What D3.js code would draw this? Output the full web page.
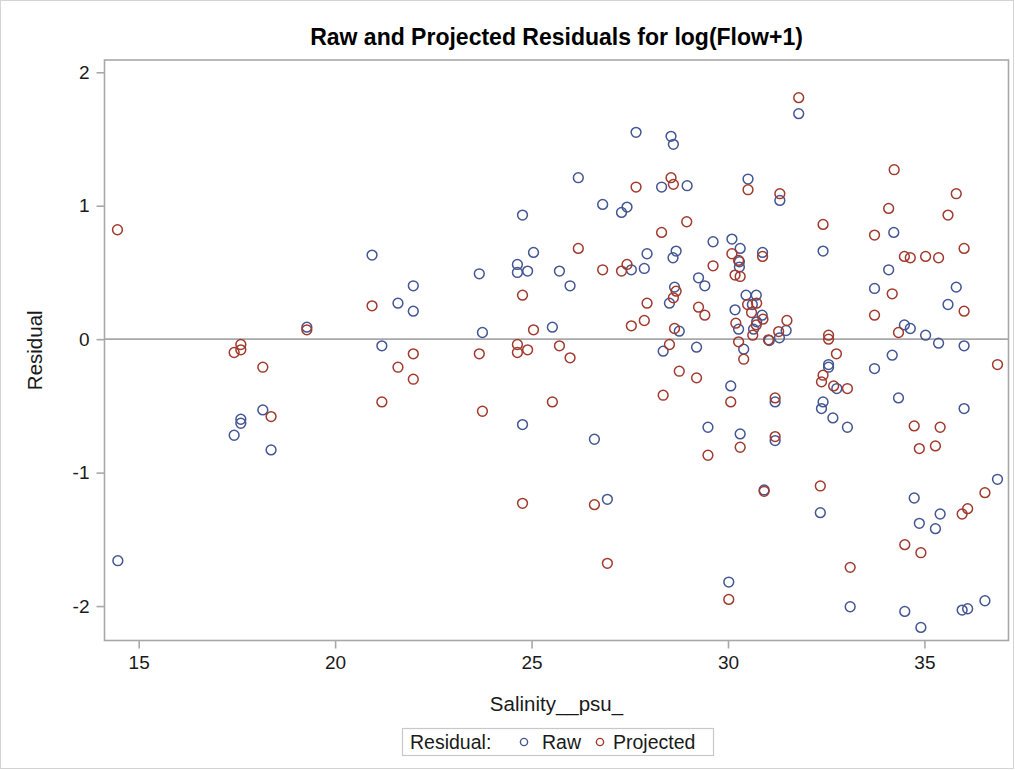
<!DOCTYPE html>
<html>
<head>
<meta charset="utf-8">
<script src="https://cdn.jsdelivr.net/npm/d3@7"></script>
<style>
  html, body { margin: 0; padding: 0; background: #fff; }
  svg { display: block; font-family: "Liberation Sans", Arial, sans-serif; }
</style>
</head>
<body>
<svg id="chart" width="1015" height="770"></svg>
<script>
// ---- data ----
const rawSalinity = [14.47,17.43,17.6,17.6,18.16,18.37,19.28,20.94,21.19,21.6,21.99,21.99,23.67,23.75,24.64,24.64,24.77,24.77,24.9,25.05,25.53,25.71,25.98,26.19,26.6,26.81,26.93,27.29,27.43,27.54,27.66,27.87,27.94,28.31,28.35,28.51,28.55,28.61,28.6,28.64,28.68,28.76,28.96,29.2,29.25,29.41,29.49,29.62,30.02,30.07,30.1,30.18,30.27,30.29,30.29,30.31,30.31,30.4,30.46,30.51,30.62,30.65,30.72,30.73,30.87,30.88,30.92,31.05,31.2,31.2,31.31,31.32,31.48,31.8,32.35,32.38,32.42,32.42,32.56,32.56,32.67,32.77,33.04,33.11,33.73,33.73,34.09,34.18,34.22,34.34,34.49,34.5,34.64,34.74,34.87,34.91,35.03,35.28,35.36,35.4,35.6,35.81,35.96,36.01,36.01,36.1,36.54,36.86];
const rawResidual = [-1.66,-0.72,-0.60,-0.63,-0.53,-0.83,0.09,0.63,-0.05,0.27,0.40,0.21,0.49,0.05,0.56,0.50,0.93,-0.64,0.51,0.65,0.09,0.51,0.40,1.21,-0.75,1.01,-1.20,0.95,0.99,0.52,1.55,0.53,0.64,1.14,-0.09,0.27,1.52,1.46,0.61,0.39,0.66,0.06,1.15,-0.06,0.46,0.40,-0.66,0.73,-1.82,-0.35,0.75,0.22,0.075,0.58,0.54,0.68,-0.71,-0.075,0.33,1.20,0.26,0.075,0.33,0.13,0.18,0.65,-1.13,-0.01,-0.47,-0.76,0.01,1.04,0.065,1.69,-1.30,-0.52,0.66,-0.47,-0.19,-0.21,-0.59,-0.37,-0.66,-2.005,0.38,-0.22,0.52,-0.12,0.80,-0.44,0.107,-2.04,0.08,-1.19,-1.38,-2.16,0.03,-1.42,-0.03,-1.31,0.26,0.39,-2.03,-0.05,-0.52,-2.02,-1.96,-1.05];
const projSalinity = [14.46,17.43,17.6,17.6,18.16,18.37,19.28,20.94,21.19,21.6,21.99,21.99,23.67,23.75,24.64,24.64,24.77,24.77,24.9,25.05,25.53,25.71,25.98,26.19,26.6,26.81,26.93,27.29,27.43,27.54,27.66,27.87,27.94,28.31,28.35,28.51,28.55,28.61,28.61,28.64,28.68,28.76,28.95,29.2,29.25,29.41,29.49,29.62,30.02,30.07,30.1,30.2,30.27,30.27,30.18,30.31,30.31,30.4,30.5,30.51,30.6,30.63,30.73,30.72,30.89,30.88,30.92,31.03,31.2,31.2,31.29,31.32,31.5,31.8,32.35,32.38,32.42,32.42,32.56,32.56,32.69,32.76,33.04,33.11,33.73,33.73,34.09,34.18,34.23,34.34,34.49,34.5,34.64,34.74,34.87,34.91,35.03,35.28,35.36,35.4,35.6,35.81,35.96,36.01,36.01,36.1,36.54,36.86];
const projResidual = [0.82,-0.10,-0.04,-0.08,-0.21,-0.58,0.07,0.25,-0.47,-0.21,-0.11,-0.30,-0.11,-0.54,-0.04,-0.10,0.33,-1.23,-0.08,0.07,-0.47,-0.05,-0.14,0.68,-1.24,0.52,-1.68,0.51,0.56,0.10,1.14,0.14,0.27,0.80,-0.42,-0.04,1.21,1.16,0.31,0.08,0.36,-0.24,0.88,-0.29,0.24,0.18,-0.87,0.55,-1.95,-0.47,0.64,0.12,-0.02,0.59,0.48,0.47,-0.81,-0.15,0.26,1.12,0.20,0.03,0.27,0.107,0.15,0.62,-1.14,-0.005,-0.44,-0.73,0.057,1.09,0.14,1.81,-1.10,-0.32,0.86,-0.27,0.03,0.00,-0.35,-0.11,-0.37,-1.71,0.78,0.18,0.98,0.34,1.27,0.05,0.62,-1.54,0.61,-0.65,-0.82,-1.60,0.62,-0.80,0.61,-0.66,0.93,1.09,-1.31,0.21,0.68,-1.27,-1.15,-0.19];
const xTicks = [15, 20, 25, 30, 35];
const yTicks = [-2, -1, 0, 1, 2];
const seriesNames = ["Raw", "Projected"];
const seriesColors = ["#445694", "#A23A2E"];
const titleText = "Raw and Projected Residuals for log(Flow+1)";
const xLabel = "Salinity__psu_";
const yLabel = "Residual";
const legendTitle = "Residual:";

// ---- layout ----
const svg = d3.select("#chart");
const L = 104.5, R = 1008.5, T = 60, B = 640.5;
const x = d3.scaleLinear().domain([14.13, 37.14]).range([L, R]);
const y = d3.scaleLinear().domain([-2.258, 2.092]).range([B, T]);
const gridGray = "#a8a8a8";
const textCol = "#1a1a1a";

// outer border
svg.append("rect").attr("x", 0.5).attr("y", 0.5).attr("width", 1013).attr("height", 768)
  .attr("fill", "none").attr("stroke", "#d4d4d4").attr("stroke-width", 1);

// title
svg.append("text").attr("x", (L + R) / 2).attr("y", 45).attr("text-anchor", "middle")
  .attr("font-size", 23).attr("font-weight", "bold").attr("fill", "#000").text(titleText);

// zero reference line
svg.append("line").attr("x1", L).attr("x2", R).attr("y1", y(0)).attr("y2", y(0))
  .attr("stroke", gridGray).attr("stroke-width", 1.6);

// axes
const xAxis = d3.axisBottom(x).tickValues(xTicks).tickSize(8).tickPadding(7).tickFormat(d => String(d));
const yAxis = d3.axisLeft(y).tickValues(yTicks).tickSize(8).tickPadding(7).tickFormat(d => String(d));
const gx = svg.append("g").attr("transform", `translate(0,${B})`).call(xAxis);
const gy = svg.append("g").attr("transform", `translate(${L},0)`).call(yAxis);
[gx, gy].forEach(g => {
  g.select(".domain").remove();
  g.selectAll(".tick line").attr("stroke", gridGray).attr("stroke-width", 1.6);
  g.selectAll(".tick text").attr("font-size", 19).attr("fill", textCol)
    .attr("font-family", '"Liberation Sans", Arial, sans-serif');
});

// frame
svg.append("rect").attr("x", L).attr("y", T).attr("width", R - L).attr("height", B - T)
  .attr("fill", "none").attr("stroke", gridGray).attr("stroke-width", 1.6);

// axis labels
svg.append("text").attr("x", (L + R) / 2).attr("y", 711).attr("text-anchor", "middle")
  .attr("font-size", 20.5).attr("fill", textCol).text(xLabel);
svg.append("text").attr("transform", `translate(42,${(T + B) / 2}) rotate(-90)`)
  .attr("text-anchor", "middle").attr("font-size", 20.5).attr("fill", textCol).text(yLabel);

// points
const series = [
  { name: seriesNames[0], color: seriesColors[0], xs: rawSalinity, ys: rawResidual },
  { name: seriesNames[1], color: seriesColors[1], xs: projSalinity, ys: projResidual }
];
const plot = svg.append("g");
series.forEach(s => {
  plot.append("g").selectAll("circle")
    .data(s.xs.map((v, i) => [v, s.ys[i]]))
    .join("circle")
    .attr("cx", d => x(d[0])).attr("cy", d => y(d[1])).attr("r", 4.9)
    .attr("fill", "none").attr("stroke", s.color).attr("stroke-width", 1.5);
});

// legend
const lg = svg.append("g");
lg.append("rect").attr("x", 402.5).attr("y", 728.5).attr("width", 311).attr("height", 27)
  .attr("fill", "#fff").attr("stroke", "#c8c8c8").attr("stroke-width", 1.2);
lg.append("text").attr("x", 410).attr("y", 748.5).attr("font-size", 19.5).attr("fill", textCol).text(legendTitle);
const legendPos = [{ cx: 524, tx: 542 }, { cx: 600, tx: 613 }];
series.forEach((s, i) => {
  lg.append("circle").attr("cx", legendPos[i].cx).attr("cy", 742).attr("r", 3.6)
    .attr("fill", "none").attr("stroke", s.color).attr("stroke-width", 1.4);
  lg.append("text").attr("x", legendPos[i].tx).attr("y", 748.5).attr("font-size", 19.5)
    .attr("fill", textCol).text(s.name);
});
</script>
</body>
</html>
